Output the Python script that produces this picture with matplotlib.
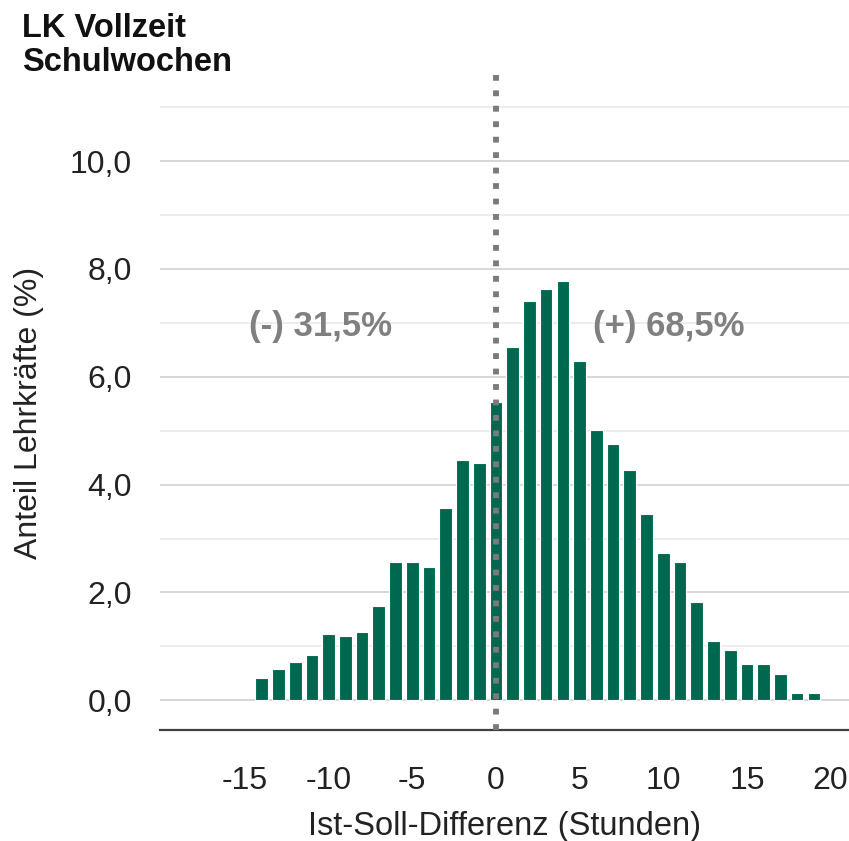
import numpy as np
import matplotlib.pyplot as plt

plt.rcParams['font.family'] = ['Liberation Sans', 'DejaVu Sans']

# Ist-Soll-Differenz in Stunden und Anteil der Lehrkräfte (%)
stunden = list(range(-14, 20))
anteil = [0.42, 0.59, 0.72, 0.84, 1.23, 1.19, 1.27, 1.75, 2.57, 2.57,
          2.48, 3.56, 4.45, 4.41, 5.53, 6.56, 7.41, 7.63, 7.77, 6.30,
          5.01, 4.75, 4.28, 3.46, 2.73, 2.56, 1.83, 1.10, 0.93, 0.67,
          0.67, 0.49, 0.14, 0.14]
x_ticks = [-15, -10, -5, 0, 5, 10, 15, 20]
y_ticks = [0, 2, 4, 6, 8, 10]
anteil_minus = '(-) 31,5%'
anteil_plus = '(+) 68,5%'

fig = plt.figure(figsize=(8.49, 8.41), dpi=100)
ax = fig.add_axes([0.188, 0.132, 0.812, 0.779])

# gridlines (major even, minor odd)
for v in range(0, 12):
    col = '#d4d4d4' if v % 2 == 0 else '#ececec'
    ax.axhline(v, color=col, lw=1.3, zorder=0)

ax.bar(stunden, anteil, width=0.76, color='#00684f', edgecolor='white',
       linewidth=0.8, zorder=2)

ax.axvline(0, color='#7a7a7a', lw=4.2, linestyle=(0, (1.0, 1.65)), zorder=3)

ax.set_xlim(-20.1, 21.1)
ax.set_ylim(-0.55, 11.6)
ax.set_xticks(x_ticks)
ax.set_xticklabels([str(t) for t in x_ticks])
ax.set_yticks(y_ticks)
ax.set_yticklabels([f'{t:.1f}'.replace('.', ',') for t in y_ticks])
ax.tick_params(axis='x', length=0, pad=26, labelsize=23, colors='#222222')
ax.tick_params(axis='y', length=0, pad=20, labelsize=23, colors='#222222')

for s in ['top', 'right', 'left']:
    ax.spines[s].set_visible(False)
ax.spines['bottom'].set_color('#404040')
ax.spines['bottom'].set_linewidth(1.6)

ax.set_xlabel('Ist-Soll-Differenz (Stunden)', fontsize=23.5, color='#222222', labelpad=11)
ax.set_ylabel('Anteil Lehrkräfte (%)', fontsize=23, color='#222222')
ax.yaxis.set_label_coords(-0.167, 0.484)

ax.text(-10.5, 6.94, anteil_minus, fontsize=25, fontweight='bold', color='#808080',
        ha='center', va='center')
ax.text(10.3, 6.94, anteil_plus, fontsize=25, fontweight='bold', color='#808080',
        ha='center', va='center')

fig.text(0.026, 0.984, 'LK Vollzeit\nSchulwochen', fontsize=23.5, fontweight='bold',
         color='#111111', ha='left', va='top', linespacing=1.1)

fig.savefig('out.png', dpi=100)
